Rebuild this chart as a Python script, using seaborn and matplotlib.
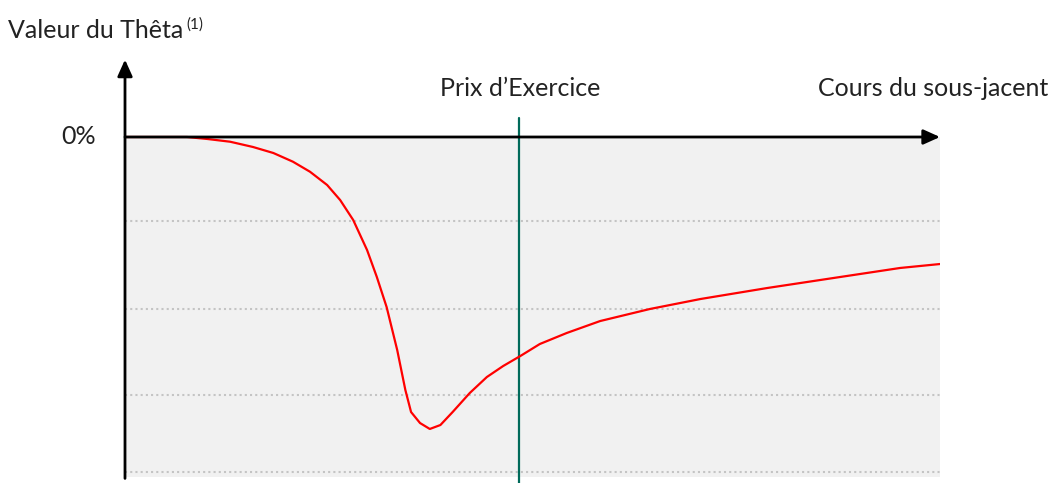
import seaborn as sns
import pandas as pd
import matplotlib.pyplot as plt

# Theta profile vs underlying price (arbitrary units)
cours = [0, 7.6, 10.1, 12.9, 15.7, 18.2, 20.6, 22.7, 24.8, 26.4, 28.0, 29.7, 30.9,
         32.1, 33.4, 34.4, 35.1, 36.2, 37.4, 38.7, 40.2, 42.3, 44.4, 46.4, 48.5,
         50.9, 54.2, 58.3, 64.4, 70.6, 78.8, 86.9, 95.1, 100]
theta = [0, 0, -0.023, -0.055, -0.116, -0.186, -0.287, -0.404, -0.558, -0.733,
         -0.965, -1.314, -1.628, -1.977, -2.477, -2.942, -3.198, -3.326, -3.395,
         -3.349, -3.198, -2.977, -2.791, -2.663, -2.547, -2.407, -2.279, -2.140,
         -2.000, -1.884, -1.756, -1.640, -1.523, -1.477]
strike = 48.3
grid_levels = [-0.977, -2, -3, -3.895]

data = pd.DataFrame({'Cours': cours, 'Theta': theta})

sns.set_style('white')
plt.rcParams['font.family'] = ['Lato', 'DejaVu Sans']

W, H = 1053, 483
fig = plt.figure(figsize=(W / 100, H / 100), dpi=100)
# axes spans x 125..940 px, y 59.6..481 px
ax = fig.add_axes([125 / W, (H - 481) / H, 815 / W, (481 - 59.6) / H])
ax.set_xlim(0, 100)
ax.set_ylim(-4.0, 0.9)
ax.axis('off')

# gray background
ax.fill_between([0, 100], -3.95, 0, color='#f1f1f1', lw=0, zorder=0)
for g in grid_levels:
    ax.plot([0, 100], [g, g], color='#c4c4c4', lw=1.5, ls=(0, (1, 1.5)), zorder=1)

# strike line
ax.plot([strike, strike], [0.22, -4.05], color='#006a5a', lw=1.6, clip_on=False, zorder=2)

sns.lineplot(data=data, x='Cours', y='Theta', color='red', lw=1.6, ax=ax, zorder=3)

# axes arrows
arrow = dict(arrowstyle='-|>,head_length=1.0,head_width=0.45',
             color='black', lw=2, shrinkA=0, shrinkB=0)
ax.annotate('', xy=(0, 0.9), xytext=(0, -3.97), arrowprops=arrow, annotation_clip=False)
ax.annotate('', xy=(100, 0), xytext=(0, 0), arrowprops=arrow, annotation_clip=False)

fs = 18
col = '#222222'
title = fig.text(8 / W, 1 - 30 / H, 'Valeur du Thêta', fontsize=fs, color=col, va='center', ha='left')
fig.canvas.draw()
ax.annotate('(1)', xy=(1, 0.75), xycoords=title, xytext=(2, 0), textcoords='offset points',
            fontsize=11, color=col, va='center', ha='left')
fig.text(96 / W, 1 - 137 / H, '0%', fontsize=fs, color=col, va='center', ha='right')
fig.text(520 / W, 1 - 88 / H, 'Prix d\u2019Exercice', fontsize=fs, color=col, va='center', ha='center')
fig.text(1048 / W, 1 - 88 / H, 'Cours du sous-jacent', fontsize=fs, color=col, va='center', ha='right')

fig.savefig('out.png', dpi=100)
